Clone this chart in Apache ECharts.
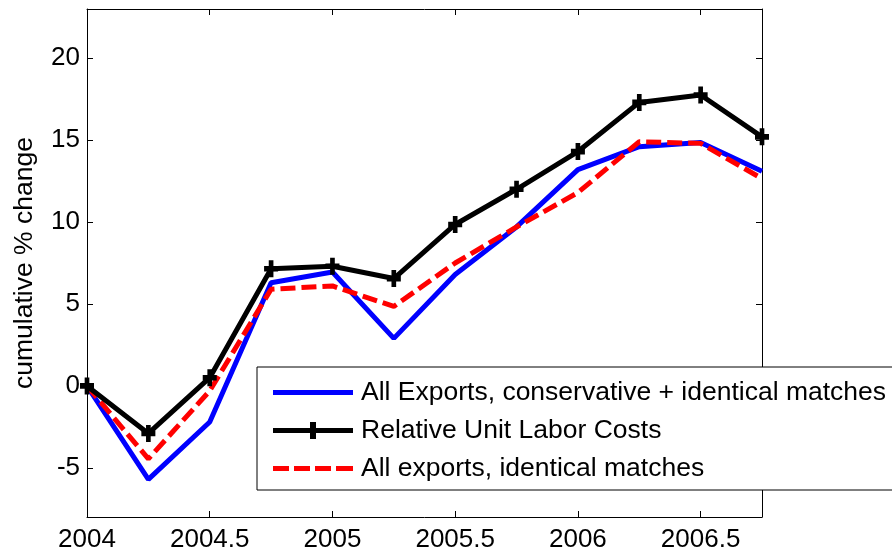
<!DOCTYPE html>
<html>
<head>
<meta charset="utf-8">
<script src="https://cdn.jsdelivr.net/npm/echarts@6/dist/echarts.min.js"></script>
<style>
  html, body { margin: 0; padding: 0; background: #fff; }
  #chart { width: 892px; height: 558px; }
</style>
</head>
<body>
<div id="chart"></div>
<script>
// Quarterly observations, cumulative % change since 2004
const quarters = [2004, 2004.25, 2004.5, 2004.75, 2005, 2005.25, 2005.5, 2005.75, 2006, 2006.25, 2006.5, 2006.75];
const allExportsConsIdent = [0, -5.7, -2.2, 6.3, 6.95, 2.9, 6.8, 9.7, 13.2, 14.6, 14.85, 13.1];
const relUnitLaborCosts = [0, -2.9, 0.5, 7.15, 7.3, 6.55, 9.85, 12.0, 14.3, 17.3, 17.75, 15.2];
const allExportsIdent = [0, -4.45, -0.3, 5.9, 6.1, 4.85, 7.5, 9.7, 11.8, 14.9, 14.8, 12.65];

const xTicks = [2004, 2004.5, 2005, 2005.5, 2006, 2006.5];
const yTicks = [-5, 0, 5, 10, 15, 20];

const seriesNames = [
  'All Exports, conservative + identical matches',
  'Relative Unit Labor Costs',
  'All exports, identical matches'
];

const pair = (ys) => quarters.map((q, i) => [q, ys[i]]);

const font = 'Liberation Sans, Arial, Helvetica, sans-serif';
const plusPath = 'path://M-1,-3L1,-3L1,-1L3,-1L3,1L1,1L1,3L-1,3L-1,1L-3,1L-3,-1L-1,-1Z';

// Legend glyphs drawn in an 80x20 box (corner moves pin the bounding box)
const iconBox = 'M0,0M80,20';
const iconSolid = 'path://' + iconBox + 'M0,7.5L80,7.5L80,12.5L0,12.5Z';
const iconPlus = 'path://' + iconBox + 'M0,7.5L80,7.5L80,12.5L0,12.5Z' + 'M37,1.5L43,1.5L43,18.5L37,18.5Z';
const iconDash = 'path://' + iconBox +
  'M0,7.5L16,7.5L16,12.5L0,12.5Z' +
  'M21,7.5L37,7.5L37,12.5L21,12.5Z' +
  'M42,7.5L58,7.5L58,12.5L42,12.5Z' +
  'M63,7.5L80,7.5L80,12.5L63,12.5Z';

const baseX = {
  type: 'value', min: 2004, max: 2006.75,
  axisLine: { show: true, onZero: false, lineStyle: { color: '#000', width: 1 } },
  axisTick: { show: true, inside: true, length: 6, customValues: xTicks, lineStyle: { color: '#000', width: 1 } },
  splitLine: { show: false }
};
const baseY = {
  type: 'value', min: -8, max: 23,
  axisLine: { show: true, onZero: false, lineStyle: { color: '#000', width: 1 } },
  axisTick: { show: true, inside: true, length: 6, customValues: yTicks, lineStyle: { color: '#000', width: 1 } },
  splitLine: { show: false }
};

const chart = echarts.init(document.getElementById('chart'), null, { renderer: 'canvas' });
chart.setOption({
  animation: false,
  backgroundColor: '#fff',
  grid: { left: 87, right: 130, top: 9, bottom: 41, containLabel: false },
  xAxis: [
    Object.assign({}, baseX, {
      position: 'bottom',
      axisLabel: {
        customValues: xTicks, color: '#000', fontSize: 26, fontFamily: font, margin: 10,
        formatter: (v) => String(v)
      }
    }),
    Object.assign({}, baseX, { position: 'top', axisLabel: { show: false } })
  ],
  yAxis: [
    Object.assign({}, baseY, {
      position: 'left',
      name: 'cumulative % change',
      nameLocation: 'middle',
      nameGap: 49,
      nameTextStyle: { color: '#000', fontSize: 26.5, fontFamily: font },
      axisLabel: {
        customValues: yTicks, color: '#000', fontSize: 26, fontFamily: font, margin: 7,
        formatter: (v) => String(v)
      }
    }),
    Object.assign({}, baseY, { position: 'right', axisLabel: { show: false } })
  ],
  legend: {
    orient: 'vertical',
    left: 257,
    top: 367,
    data: [
      { name: seriesNames[0], icon: iconSolid, itemStyle: { color: '#0000ff', borderWidth: 0 } },
      { name: seriesNames[1], icon: iconPlus, itemStyle: { color: '#000000', borderWidth: 0 } },
      { name: seriesNames[2], icon: iconDash, itemStyle: { color: '#ff0000', borderWidth: 0 } }
    ],
    backgroundColor: '#fff',
    borderColor: '#000',
    borderWidth: 1,
    borderRadius: 0,
    padding: [12, 60, 8, 16],
    itemWidth: 80,
    itemHeight: 20,
    itemGap: 11,
    selectedMode: false,
    textStyle: { color: '#000', fontSize: 26.5, fontFamily: font, lineHeight: 26, padding: [0, 0, 0, 3] }
  },
  series: [
    {
      name: seriesNames[0], type: 'line', data: pair(allExportsConsIdent),
      symbol: 'none', z: 2,
      lineStyle: { color: '#0000ff', width: 5 }, itemStyle: { color: '#0000ff' }
    },
    {
      name: seriesNames[2], type: 'line', data: pair(allExportsIdent),
      symbol: 'none', z: 3,
      lineStyle: { color: '#ff0000', width: 5, type: [15, 6] }, itemStyle: { color: '#ff0000' }
    },
    {
      name: seriesNames[1], type: 'line', data: pair(relUnitLaborCosts),
      symbol: plusPath, symbolSize: [14, 17], showAllSymbol: true, z: 4,
      lineStyle: { color: '#000', width: 5 }, itemStyle: { color: '#000' }
    }
  ]
});
</script>
</body>
</html>
